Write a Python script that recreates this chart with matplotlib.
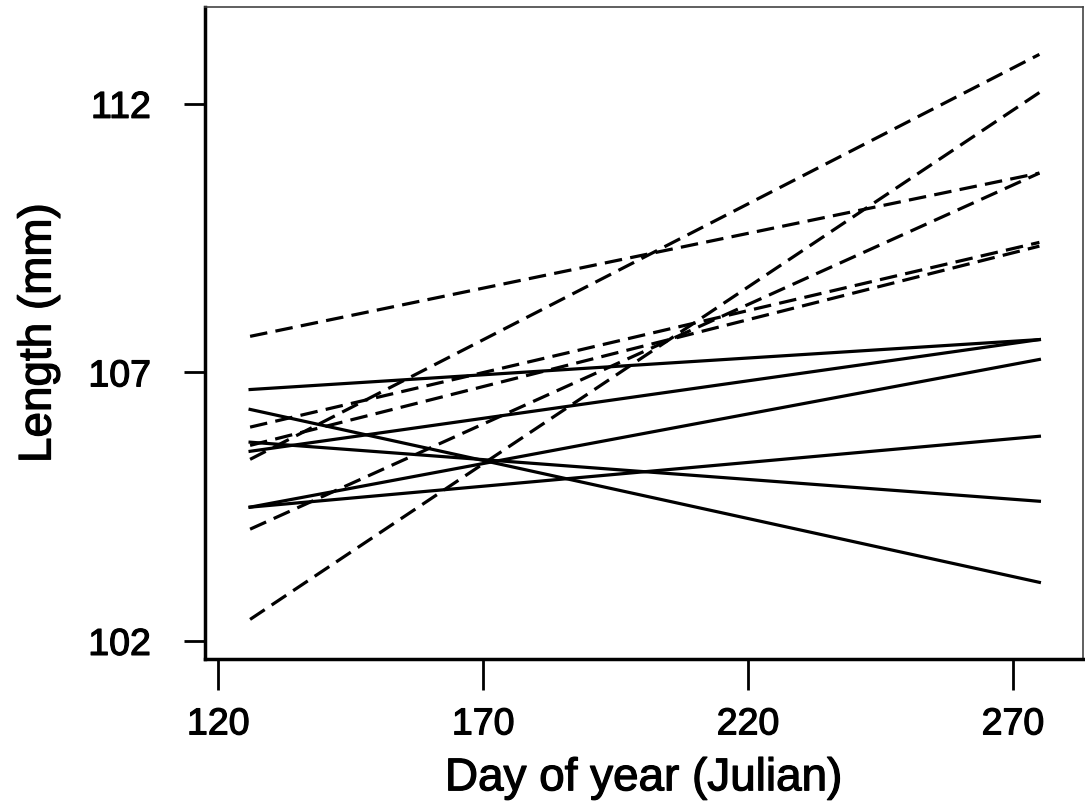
import matplotlib
matplotlib.use("Agg")
import matplotlib.pyplot as plt
import matplotlib.patheffects as pe

# Day of year range covered by each fitted line
day_start = 126
day_end = 275

# Dashed lines: (length at start, length at end) in mm
dashed_start = [107.67, 105.98, 105.64, 105.38, 104.08, 102.40]
dashed_end = [110.71, 109.42, 109.35, 112.92, 110.71, 112.21]

# Solid lines
solid_start = [106.68, 105.53, 104.49, 104.49, 105.70, 106.31]
solid_end = [107.61, 107.61, 107.24, 105.81, 104.60, 103.09]

x_ticks = [120, 170, 220, 270]
y_ticks = [102, 107, 112]

plt.rcParams['font.family'] = ['Liberation Sans', 'DejaVu Sans']

fig = plt.figure(figsize=(10.85, 8.12), dpi=100)
ax = fig.add_axes([0.189, 0.187, 0.809, 0.803])

for s, e in zip(dashed_start, dashed_end):
    ax.plot([day_start, day_end], [s, e], color='black', lw=2.3,
            linestyle=(0, (5.5, 2.6)), dash_capstyle='butt')
for s, e in zip(solid_start, solid_end):
    ax.plot([day_start, day_end], [s, e], color='black', lw=2.3)

ax.set_xlim(117.5, 283.2)
ax.set_ylim(101.66, 113.8)
ax.set_xticks(x_ticks)
ax.set_yticks(y_ticks)
ax.tick_params(axis='both', direction='out', width=2, colors='black', labelsize=27)
ax.tick_params(axis='y', length=15, pad=24)
ax.tick_params(axis='x', length=22, pad=12)

thick = [pe.withStroke(linewidth=0.9, foreground='black')]
for lab in ax.get_xticklabels() + ax.get_yticklabels():
    lab.set_path_effects(thick)

for side in ['left', 'bottom']:
    ax.spines[side].set_linewidth(2.5)
    ax.spines[side].set_color('black')
for side in ['top', 'right']:
    ax.spines[side].set_linewidth(1.2)
    ax.spines[side].set_color('#444444')

xl = ax.set_xlabel('Day of year (Julian)', fontsize=33, labelpad=10)
yl = ax.set_ylabel('Length (mm)', fontsize=33, labelpad=20)
xl.set_path_effects(thick)
yl.set_path_effects(thick)

fig.savefig('out.png', dpi=100, facecolor='white')
